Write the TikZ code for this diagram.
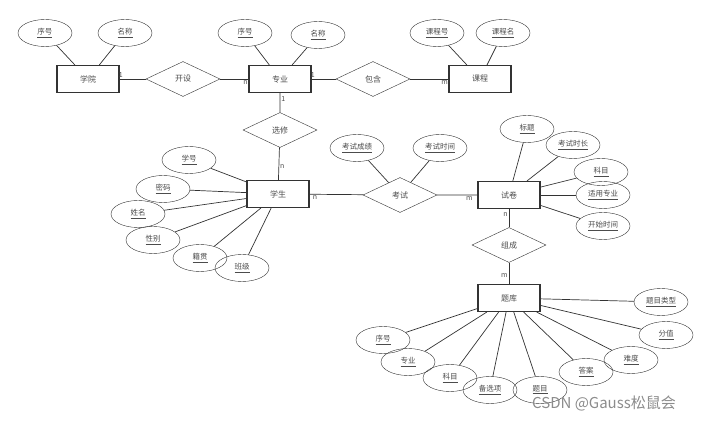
\documentclass[tikz,border=0pt]{standalone}
\usepackage{fontspec}
\setmainfont{Noto Sans CJK SC}
\usetikzlibrary{shapes.geometric}
\begin{document}
\begin{tikzpicture}[x=1pt,y=-1pt,
 ent/.style={draw=black!80,line width=1.1pt,minimum width=62pt,minimum height=27pt,font=\fontsize{8}{9}\selectfont,text=black!70},
 rel/.style={draw=black!80,diamond,aspect=2.1,minimum width=74pt,minimum height=35pt,inner sep=0pt,font=\fontsize{8}{9}\selectfont,text=black!70},
 att/.style={draw=black!80,ellipse,minimum width=54pt,minimum height=27pt,inner sep=0pt,font=\fontsize{7.5}{9}\selectfont,text=black!70},
 ln/.style={draw=black!80,line width=0.7pt},
 card/.style={font=\fontsize{7}{8}\selectfont,text=black!70,inner sep=1pt}]
\path[use as bounding box,fill=white] (0,0) rectangle (713,422);
% entities
\node[ent] (xy) at (88,79) {学院};
\node[ent] (zy) at (280,79) {专业};
\node[ent] (kc) at (480,79) {课程};
\node[ent] (xs) at (278,194) {学生};
\node[ent] (sj) at (509,195) {试卷};
\node[ent] (tk) at (509,298) {题库};
% relations
\node[rel] (ks1) at (183,79) {开设};
\node[rel] (bh) at (373,79) {包含};
\node[rel] (xx) at (280,130) {选修};
\node[rel] (ks) at (400,195) {考试};
\node[rel] (zc) at (509,245) {组成};
% attributes
\node[att] (a1) at (45,33) {\underline{序号}};
\node[att] (a2) at (125,33) {\underline{名称}};
\node[att] (b1) at (245,33) {\underline{序号}};
\node[att] (b2) at (318,35) {\underline{名称}};
\node[att] (c1) at (437,33) {\underline{课程号}};
\node[att] (c2) at (503,33) {\underline{课程名}};
\node[att] (d1) at (189,160) {\underline{学号}};
\node[att] (d2) at (163,189) {\underline{密码}};
\node[att] (d3) at (138,214) {\underline{姓名}};
\node[att] (d4) at (153,240) {\underline{性别}};
\node[att] (d5) at (200,258) {\underline{籍贯}};
\node[att] (d6) at (242,268) {\underline{班级}};
\node[att] (e1) at (357,148) {\underline{考试成绩}};
\node[att] (e2) at (440,148) {\underline{考试时间}};
\node[att] (f1) at (527,129) {\underline{标题}};
\node[att] (f2) at (573,145) {\underline{考试时长}};
\node[att] (f3) at (601,172) {\underline{科目}};
\node[att] (f4) at (603,195) {\underline{适用专业}};
\node[att] (f5) at (603,226) {\underline{开始时间}};
\node[att] (g1) at (661,302) {\underline{题目类型}};
\node[att] (g2) at (666,335) {\underline{分值}};
\node[att] (g3) at (631,360) {\underline{难度}};
\node[att] (g4) at (586,372) {\underline{答案}};
\node[att] (g5) at (540,390) {\underline{题目}};
\node[att] (g6) at (490,390) {\underline{备选项}};
\node[att] (g7) at (450,378) {\underline{科目}};
\node[att] (g8) at (408,362) {\underline{专业}};
\node[att] (g9) at (383,340) {\underline{序号}};
% relation lines
\draw[ln] (xy) -- node[card,pos=0.05,above]{1} (ks1) -- node[card,pos=0.9,below]{n} (zy);
\draw[ln] (zy) -- node[card,pos=0.05,above]{1} (bh) -- node[card,pos=0.9,below]{m} (kc);
\draw[ln] (zy) -- node[card,pos=0.3,right]{1} (xx) -- node[card,pos=0.6,right]{n} (xs);
\draw[ln] (xs) -- node[card,pos=0.1,below]{n} (ks) -- node[card,pos=0.8,below]{m} (sj);
\draw[ln] (sj) -- node[card,pos=0.3,left]{n} (zc) -- node[card,pos=0.6,left]{m} (tk);
% attribute lines
\foreach \a in {a1,a2} \draw[ln] (\a) -- (xy);
\foreach \a in {b1,b2} \draw[ln] (\a) -- (zy);
\foreach \a in {c1,c2} \draw[ln] (\a) -- (kc);
\foreach \a in {d1,d2,d3,d4,d5,d6} \draw[ln] (\a) -- (xs);
\foreach \a in {e1,e2} \draw[ln] (\a) -- (ks);
\foreach \a in {f1,f2,f3,f4,f5} \draw[ln] (\a) -- (sj);
\foreach \a in {g1,g2,g3,g4,g5,g6,g7,g8,g9} \draw[ln] (\a) -- (tk);
\node[font=\fontsize{15}{17}\selectfont,text=black!45] (wm) at (604,403) {CSDN @Gauss松鼠会};
\end{tikzpicture}
\end{document}
